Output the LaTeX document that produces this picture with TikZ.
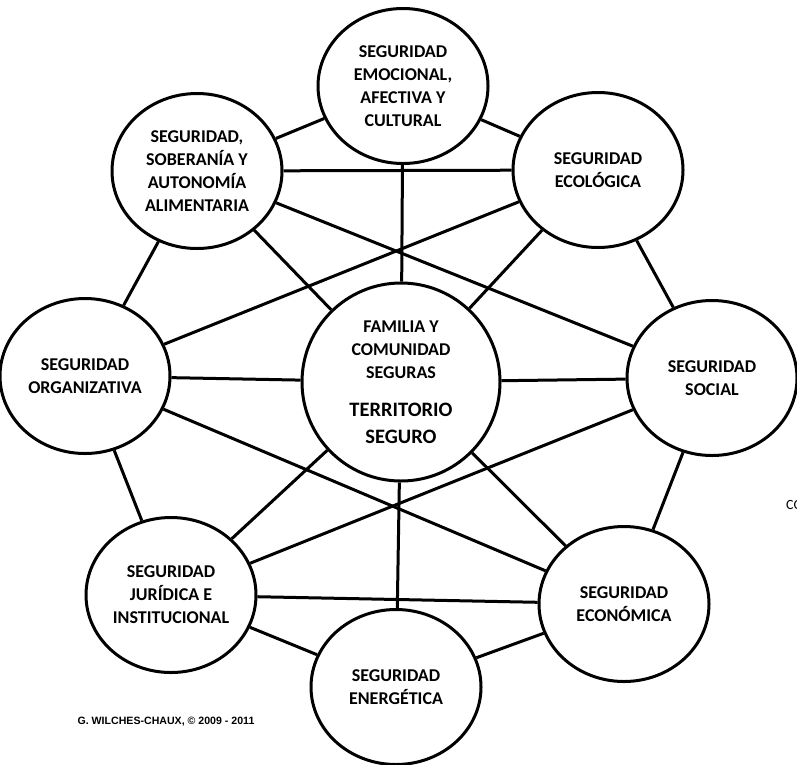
\documentclass[tikz,border=0pt]{standalone}
\usepackage{fontspec}
\setmainfont{Carlito}
\newfontfamily\arialfont{Liberation Sans}
\usepackage{tikz}
\usetikzlibrary{positioning,shapes}
\newcommand{\terr}{\fontsize{20.5}{25}\selectfont}

\begin{document}
\begin{tikzpicture}[x=1pt,y=-1pt]
      \tikzstyle{seg}=[ellipse,draw=black,line width=3pt,fill=white,%
        minimum width=170pt,minimum height=155pt,inner sep=0pt,%
        align=center,font=\bfseries\fontsize{18}{23}\selectfont]
      \tikzstyle{link}=[line width=3pt]
      \useasboundingbox (0,0) rectangle (797,764);

      \node[seg,minimum width=198pt,minimum height=198pt] (T) at (401,382)
        {FAMILIA Y\\COMUNIDAD\\SEGURAS\\[15pt]\terr TERRITORIO\\[4pt]\terr SEGURO};
      \node[seg] (EMO) at (403,86) {SEGURIDAD\\EMOCIONAL,\\AFECTIVA Y\\CULTURAL};
      \node[seg] (ECL) at (598,170) {SEGURIDAD\\ECOLÓGICA};
      \node[seg] (SOC) at (712,378) {SEGURIDAD\\SOCIAL};
      \node[seg] (ECN) at (624,604) {SEGURIDAD\\ECONÓMICA};
      \node[seg] (ENE) at (396,687) {SEGURIDAD\\ENERGÉTICA};
      \node[seg] (JUR) at (171,595) {SEGURIDAD\\JURÍDICA E\\INSTITUCIONAL};
      \node[seg] (ORG) at (85,376) {SEGURIDAD\\ORGANIZATIVA};
      \node[seg] (ALI) at (197,171) {SEGURIDAD,\\SOBERANÍA Y\\AUTONOMÍA\\ALIMENTARIA};

      \node[anchor=west,inner sep=0pt,font=\fontsize{14}{16}\selectfont] (CO) at (786,505) {CO};
      \node[inner sep=0pt,font=\arialfont\bfseries\fontsize{10.6}{12}\selectfont] (GW) at (166,722)
        {G. WILCHES-CHAUX, © 2009 - 2011};

      % anillo exterior
      \path [link] (EMO) edge (ECL);
      \path [link] (ECL) edge (SOC);
      \path [link] (SOC) edge (ECN);
      \path [link] (ECN) edge (ENE);
      \path [link] (ENE) edge (JUR);
      \path [link] (JUR) edge (ORG);
      \path [link] (ORG) edge (ALI);
      \path [link] (ALI) edge (EMO);

      % cruces
      \path [link] (ALI) edge (ECL);
      \path [link] (ALI) edge (SOC);
      \path [link] (ECL) edge (ORG);
      \path [link] (ORG) edge (ECN);
      \path [link] (JUR) edge (SOC);
      \path [link] (JUR) edge (ECN);

      % centro
      \path [link] (T) edge (EMO);
      \path [link] (T) edge (ECL);
      \path [link] (T) edge (SOC);
      \path [link] (T) edge (ECN);
      \path [link] (T) edge (ENE);
      \path [link] (T) edge (JUR);
      \path [link] (T) edge (ORG);
      \path [link] (T) edge (ALI);
    \end{tikzpicture}
\end{document}
